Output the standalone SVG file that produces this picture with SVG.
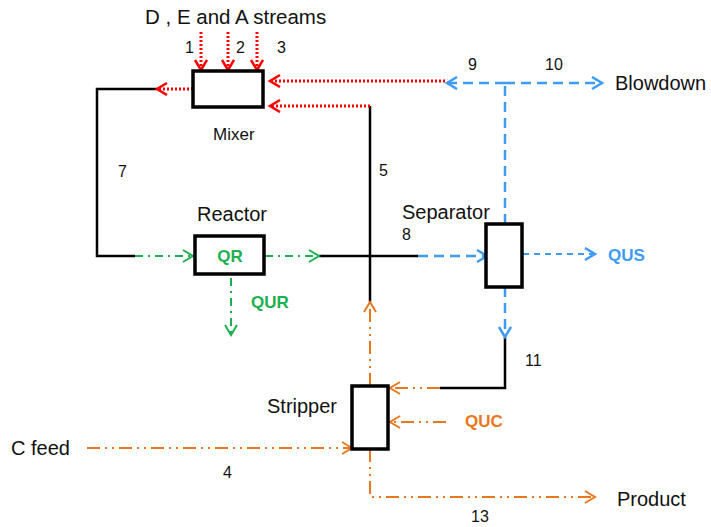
<svg xmlns="http://www.w3.org/2000/svg" width="711" height="527" viewBox="0 0 711 527">
<style>
text{font-family:"Liberation Sans",Arial,sans-serif;fill:#111}
.lbl{font-size:20px}
.hd{font-size:20.5px}
.num{font-size:16px}
.mix{font-size:17px}
.q{font-size:17px;font-weight:bold}
.box{fill:#fff;stroke:#000;stroke-width:3.5}
.blk{fill:none;stroke:#000;stroke-width:2.5}
.red{fill:none;stroke:#FF0000;stroke-width:3;stroke-dasharray:2 2}
.blu{fill:none;stroke:#3D9BF5;stroke-width:2.5;stroke-dasharray:10 6}
.blu2{fill:none;stroke:#3D9BF5;stroke-width:2;stroke-dasharray:6 5}
.grn{fill:none;stroke:#1DB050;stroke-width:2;stroke-dasharray:8 5 2 5}
.org{fill:none;stroke:#E87820;stroke-width:2;stroke-dasharray:13 5 2 5 2 5}
</style>
<defs>
<marker id="aR" markerUnits="userSpaceOnUse" markerWidth="16" markerHeight="16" refX="11" refY="7" orient="auto"><path d="M1,1 L11,7 L1,13" fill="none" stroke="#FF0000" stroke-width="2.5"/></marker>
<marker id="aB" markerUnits="userSpaceOnUse" markerWidth="16" markerHeight="16" refX="11" refY="7" orient="auto"><path d="M1,1 L11,7 L1,13" fill="none" stroke="#3D9BF5" stroke-width="2.5"/></marker>
<marker id="aG" markerUnits="userSpaceOnUse" markerWidth="16" markerHeight="16" refX="11" refY="7" orient="auto"><path d="M1,1 L11,7 L1,13" fill="none" stroke="#1DB050" stroke-width="2"/></marker>
<marker id="aO" markerUnits="userSpaceOnUse" markerWidth="16" markerHeight="16" refX="11" refY="7" orient="auto"><path d="M1,1 L11,7 L1,13" fill="none" stroke="#E87820" stroke-width="2"/></marker>
</defs>
<rect width="711" height="527" fill="#fff"/>

<g id="connectors">
  <path class="blk" d="M157,89 H97 V256 H135"/>
  <path class="blk" d="M370,106 V302"/>
  <path class="blk" d="M319,256 H418"/>
  <path class="blk" d="M505,337 V388 H440"/>
  <path class="red" d="M201,32 V70" marker-end="url(#aR)"/>
  <path class="red" d="M228,32 V70" marker-end="url(#aR)"/>
  <path class="red" d="M257,32 V70" marker-end="url(#aR)"/>
  <path class="red" d="M193,89 H157" marker-end="url(#aR)"/>
  <path class="red" d="M445,81 H270" marker-end="url(#aR)"/>
  <path class="red" d="M370,106 H270" marker-end="url(#aR)"/>
  <path class="grn" d="M135,256 H193" marker-end="url(#aG)"/>
  <path class="grn" d="M265,256 H319" marker-end="url(#aG)"/>
  <path class="grn" d="M231,278 V335" marker-end="url(#aG)"/>
  <path class="blu" d="M418,256 H487" marker-end="url(#aB)"/>
  <path class="blu2" d="M523,254 H595" marker-end="url(#aB)"/>
  <path class="blu" d="M505,224 V83"/>
  <path class="blu" d="M505,83 H447" marker-end="url(#aB)"/>
  <path class="blu" d="M505,83 H602" marker-end="url(#aB)"/>
  <path class="blu" d="M505,287 V337" marker-end="url(#aB)"/>
  <path class="org" d="M87,448 H352" marker-end="url(#aO)"/>
  <path class="org" d="M370,386 V302" marker-end="url(#aO)"/>
  <path class="org" d="M440,388 H390" marker-end="url(#aO)"/>
  <path class="org" d="M446,422 H390" marker-end="url(#aO)"/>
  <path class="org" d="M370,449 V497 H595" marker-end="url(#aO)"/>
</g>

<g id="mixer">
  <rect class="box" x="193" y="71" width="70" height="36"/>
  <text class="mix" x="213" y="140">Mixer</text>
</g>
<g id="reactor">
  <rect class="box" x="195" y="236" width="69" height="38"/>
  <text class="lbl" x="197" y="221">Reactor</text>
  <text class="q" x="230" y="262" text-anchor="middle" style="fill:#1DB050">QR</text>
</g>
<g id="separator">
  <rect class="box" x="486" y="224" width="36" height="63"/>
  <text class="lbl" x="402" y="219">Separator</text>
</g>
<g id="stripper">
  <rect class="box" x="352" y="386" width="36" height="63"/>
  <text class="lbl" x="267" y="413">Stripper</text>
</g>

<g id="labels">
  <text class="hd" x="145" y="24">D , E and A streams</text>
  <text class="num" x="185" y="53">1</text>
  <text class="num" x="236" y="53">2</text>
  <text class="num" x="277" y="53">3</text>
  <text class="num" x="468" y="70">9</text>
  <text class="num" x="545" y="70">10</text>
  <text class="lbl" x="615" y="90">Blowdown</text>
  <text class="num" x="118" y="177">7</text>
  <text class="num" x="379" y="176">5</text>
  <text class="num" x="402" y="240">8</text>
  <text class="q" x="251" y="308" style="fill:#1DB050">QUR</text>
  <text class="q" x="608" y="261" style="fill:#3D9BF5">QUS</text>
  <text class="num" x="525" y="366">11</text>
  <text class="q" x="465" y="427" style="fill:#E87820">QUC</text>
  <text class="lbl" x="11" y="455">C feed</text>
  <text class="num" x="223" y="478">4</text>
  <text class="lbl" x="617" y="506">Product</text>
  <text class="num" x="471" y="522">13</text>
</g>
</svg>
